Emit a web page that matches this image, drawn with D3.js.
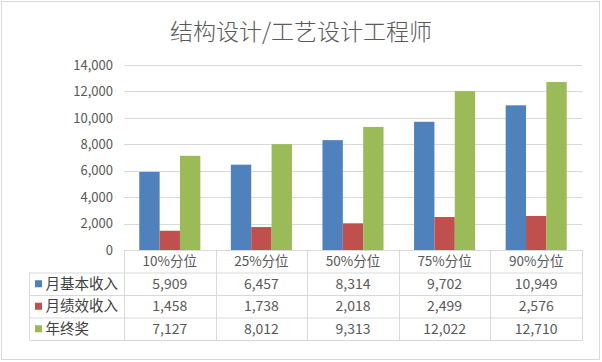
<!DOCTYPE html>
<html>
<head>
<meta charset="utf-8">
<script src="https://cdn.jsdelivr.net/npm/d3@7"></script>
<style>
  body { margin: 0; background: #fff; }
  text { font-family: "Noto Sans CJK SC", "Noto Sans", sans-serif; }
</style>
</head>
<body>
<div class="svg_container"></div>
<script>
// chart data
var categories = ["10%分位", "25%分位", "50%分位", "75%分位", "90%分位"];
var seriesNames = ["月基本收入", "月绩效收入", "年终奖"];
var baseIncome = [5909, 6457, 8314, 9702, 10949];
var bonusIncome = [1458, 1738, 2018, 2499, 2576];
var yearEndBonus = [7127, 8012, 9313, 12022, 12710];
var yTicks = [0, 2000, 4000, 6000, 8000, 10000, 12000, 14000];
var colors = ["#4f81bd", "#c0504d", "#9bbb59"];

var series = [baseIncome, bonusIncome, yearEndBonus];

// set the dimensions and margins of the plot area
var W = 602, H = 362;
var margin = {top: 65, right: 20, bottom: 112, left: 124};
var width = W - margin.left - margin.right;
var height = H - margin.top - margin.bottom;

var svg = d3.select(".svg_container").append("svg")
    .attr("width", W)
    .attr("height", H);

// outer frame
svg.append("rect")
  .attr("x", 1.5).attr("y", 1.5)
  .attr("width", W - 4).attr("height", H - 4)
  .attr("fill", "#fff")
  .attr("stroke", "#d9d9d9");

// title
svg.append("text")
  .attr("x", W / 2)
  .attr("y", 40)
  .attr("text-anchor", "middle")
  .attr("font-size", "23px")
  .attr("font-weight", 300)
  .attr("fill", "#595959")
  .text("结构设计/工艺设计工程师");

var g = svg.append("g")
    .attr("transform", "translate(" + margin.left + "," + margin.top + ")");

// scales
var xScale = d3.scaleBand()
  .domain(categories)
  .range([0, width]);

var xInner = d3.scaleBand()
  .domain(d3.range(series.length))
  .range([0, xScale.bandwidth()])
  .paddingOuter(0.75);

var yScale = d3.scaleLinear()
  .domain([0, 14000])
  .range([height, 0]);

// gridlines
g.append("g")
  .selectAll("line")
  .data(yTicks.slice(1))
  .enter().append("line")
    .attr("x1", 0).attr("x2", width)
    .attr("y1", function(d) { return Math.round(yScale(d)) + 0.5; })
    .attr("y2", function(d) { return Math.round(yScale(d)) + 0.5; })
    .attr("stroke", "#d9d9d9");

// y axis labels
var yAxis = g.append("g")
  .call(d3.axisLeft(yScale).tickValues(yTicks).tickFormat(d3.format(",")).tickSize(0).tickPadding(11));
yAxis.select(".domain").remove();
yAxis.selectAll("text")
  .attr("font-size", "13px")
  .attr("fill", "#595959")
  .style("font-family", "'Noto Sans CJK SC', sans-serif");

// bars
series.forEach(function(values, s) {
  g.append("g")
    .selectAll("rect")
    .data(values)
    .enter().append("rect")
      .attr("x", function(d, i) { return xScale(categories[i]) + xInner(s); })
      .attr("y", function(d) { return yScale(d); })
      .attr("width", xInner.bandwidth())
      .attr("height", function(d) { return height - yScale(d); })
      .attr("fill", colors[s]);
});

// data table below the plot
var rowH = 22.5;
var tableLeft = 29.5 - margin.left;
var lineColor = "#d9d9d9";
var table = g.append("g").attr("transform", "translate(0," + height + ")");

// horizontal lines
[0, 1, 2, 3, 4].forEach(function(r) {
  table.append("line")
    .attr("x1", r === 0 ? 0 : tableLeft)
    .attr("x2", width)
    .attr("y1", r * rowH + 0.5)
    .attr("y2", r * rowH + 0.5)
    .attr("stroke", lineColor);
});

// vertical lines
table.append("line")
  .attr("x1", tableLeft).attr("x2", tableLeft)
  .attr("y1", rowH).attr("y2", 4 * rowH + 0.5)
  .attr("stroke", lineColor);
categories.forEach(function(c, i) {
  var x = Math.round(xScale(c)) + 0.5;
  table.append("line")
    .attr("x1", x).attr("x2", x)
    .attr("y1", 0).attr("y2", 4 * rowH + 0.5)
    .attr("stroke", lineColor);
});
table.append("line")
  .attr("x1", width + 0.5).attr("x2", width + 0.5)
  .attr("y1", 0).attr("y2", 4 * rowH + 0.5)
  .attr("stroke", lineColor);

// category header
table.selectAll(".cat")
  .data(categories)
  .enter().append("text")
    .attr("class", "cat")
    .attr("x", function(d) { return xScale(d) + xScale.bandwidth() / 2; })
    .attr("y", rowH / 2)
    .attr("dy", "0.35em")
    .attr("text-anchor", "middle")
    .attr("font-size", "13.5px")
    .attr("fill", "#595959")
    .text(function(d) { return d; });

// series rows
series.forEach(function(values, s) {
  var cy = (s + 1.5) * rowH;
  table.append("rect")
    .attr("x", tableLeft + 5.5)
    .attr("y", cy - 3.5)
    .attr("width", 7)
    .attr("height", 7)
    .attr("fill", colors[s]);
  table.append("text")
    .attr("x", tableLeft + 16)
    .attr("y", cy)
    .attr("dy", "0.35em")
    .attr("font-size", "14.5px")
    .attr("fill", "#404040")
    .text(seriesNames[s]);
  table.selectAll(".v" + s)
    .data(values)
    .enter().append("text")
      .attr("x", function(d, i) { return xScale(categories[i]) + xScale.bandwidth() / 2; })
      .attr("y", cy)
      .attr("dy", "0.35em")
      .attr("text-anchor", "middle")
      .attr("font-size", "14px")
      .attr("fill", "#595959")
      .text(function(d) { return d3.format(",")(d); });
});
</script>
</body>
</html>
